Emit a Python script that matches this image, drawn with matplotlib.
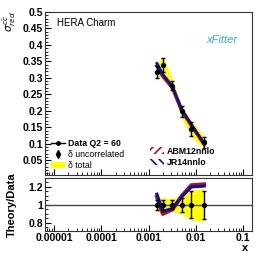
import matplotlib
matplotlib.use("Agg")
import matplotlib.pyplot as plt
from matplotlib.lines import Line2D
from matplotlib.patches import Patch
from matplotlib.ticker import MultipleLocator, LogLocator

plt.rcParams['font.family'] = ['Liberation Sans', 'DejaVu Sans']
plt.rcParams['hatch.linewidth'] = 1.2

# HERA charm, Q2 = 60
x = [0.0015, 0.002, 0.0032, 0.005, 0.008, 0.015]
sigma = [0.318, 0.339, 0.276, 0.198, 0.145, 0.104]
unc_rel = [0.06, 0.06, 0.05, 0.08, 0.15, 0.16]
tot_rel = [0.08, 0.08, 0.07, 0.10, 0.17, 0.18]

# theory predictions (top panel)
abm = [0.336, 0.305, 0.270, 0.201, 0.156, 0.098]
jr = [0.344, 0.311, 0.274, 0.204, 0.159, 0.100]
# theory / data (bottom panel)
abm_ratio = [1.09, 0.90, 0.95, 1.10, 1.22, 1.23]
jr_ratio = [1.12, 0.93, 0.96, 1.09, 1.20, 1.21]

red = "#b01020"
blue = "#1010a0"

W, H = 266, 258
fig = plt.figure(figsize=(W / 100, H / 100), dpi=100)
ax = fig.add_axes([45 / W, 1 - 175 / H, 207 / W, 163 / H])
axr = fig.add_axes([45 / W, 1 - 231 / H, 207 / W, 53 / H])

unc = [s * r for s, r in zip(sigma, unc_rel)]
tot = [s * r for s, r in zip(sigma, tot_rel)]

# top panel
ax.fill_between(x, [s - t for s, t in zip(sigma, tot)], [s + t for s, t in zip(sigma, tot)],
                color="yellow", lw=0)
ax.plot(x, abm, color=red, lw=2.6)
ax.plot(x, jr, color=blue, lw=2.0)
ax.errorbar(x, sigma, yerr=unc, fmt="o", color="black", ms=2.8, capsize=1.3, elinewidth=1)

ax.set_xscale("log")
ax.set_xlim(10 ** -5.19, 10 ** -0.814)
ax.set_ylim(0.005, 0.5)
ax.set_yticks([0.05, 0.1, 0.15, 0.2, 0.25, 0.3, 0.35, 0.4, 0.45, 0.5])
ax.set_yticklabels(["0.05", "0.1", "0.15", "0.2", "0.25", "0.3", "0.35", "0.4", "0.45", "0.5"])
ax.yaxis.set_minor_locator(MultipleLocator(0.01))
ax.xaxis.set_major_locator(LogLocator(base=10))
ax.xaxis.set_minor_locator(LogLocator(base=10, subs=range(2, 10)))
ax.tick_params(axis="x", labelbottom=False)

# bottom panel
axr.fill_between(x, [1 - t for t in tot_rel], [1 + t for t in tot_rel], color="yellow", lw=0)
axr.axhline(1, color="#444444", lw=1)
axr.plot(x, abm_ratio, color=red, lw=2.8)
axr.plot(x, jr_ratio, color=blue, lw=2.2)
axr.errorbar(x, [1] * len(x), yerr=unc_rel, fmt="o", color="black", ms=2.8, capsize=1.3, elinewidth=1)

axr.set_xscale("log")
axr.set_xlim(10 ** -5.19, 10 ** -0.814)
axr.set_ylim(0.71, 1.3)
axr.set_yticks([0.8, 1.0, 1.2])
axr.set_yticklabels(["0.8", "1", "1.2"])
axr.yaxis.set_minor_locator(MultipleLocator(0.05))
axr.set_xticks([1e-5, 1e-4, 1e-3, 1e-2, 1e-1])
axr.set_xticklabels(["0.00001", "0.0001", "0.001", "0.01", "0.1"])
axr.xaxis.set_minor_locator(LogLocator(base=10, subs=range(2, 10)))

for a in (ax, axr):
    a.tick_params(which="both", direction="in", top=False, right=False,
                  labelsize=7.5, pad=1.5)
    a.tick_params(which="major", length=4, width=0.8)
    a.tick_params(which="minor", length=2, width=0.6)
    for lab in a.get_xticklabels() + a.get_yticklabels():
        lab.set_fontweight("bold")
    for sp in a.spines.values():
        sp.set_linewidth(0.8)
        sp.set_color("#333333")

# texts
ax.text(0.06, 0.93, "HERA Charm", transform=ax.transAxes, fontsize=7, va="center")
ax.text(0.93, 0.83, "xFitter", transform=ax.transAxes, fontsize=8, style="italic",
        color="#3aa8e0", ha="right", va="center")
fig.text(10 / W, 1 - 22 / H, r"$\sigma^{c\bar{c}}_{red}$", rotation=90, fontsize=7.5,
         ha="center", va="center")
fig.text(12 / W, 1 - 205 / H, "Theory/Data", rotation=90, fontsize=8, fontweight="bold",
         ha="center", va="center")
fig.text(245 / W, 1 - 248 / H, "x", fontsize=8, fontweight="bold", ha="center", va="center")

# legends
h1 = [Line2D([], [], color="black", marker="o", ms=2.5, lw=1),
      Line2D([], [], color="black", marker="d", ms=4, lw=0),
      Patch(facecolor="yellow", edgecolor="none")]
leg1 = ax.legend(h1, ["Data Q2 = 60", "\u03b4 uncorrelated", "\u03b4 total"],
                 loc="lower left", bbox_to_anchor=(0.02, 0.02), frameon=False,
                 fontsize=6.3, handlelength=1.6, handletextpad=0.3, labelspacing=0.25,
                 borderaxespad=0, borderpad=0.2)
leg1.get_texts()[0].set_fontweight("bold")
ax.add_artist(leg1)
h2 = [Patch(facecolor="none", edgecolor=red, hatch="////", lw=0),
      Patch(facecolor="none", edgecolor=blue, hatch="\\\\\\\\", lw=0)]
ax.legend(h2, ["ABM12nnlo", "JR14nnlo"], loc="lower left", bbox_to_anchor=(0.5, 0.04),
          frameon=False, handlelength=1.6, handletextpad=0.3,
          labelspacing=0.25, borderaxespad=0, borderpad=0.2,
          prop={"weight": "bold", "size": 6.3})

fig.savefig("out.png", dpi=100)
